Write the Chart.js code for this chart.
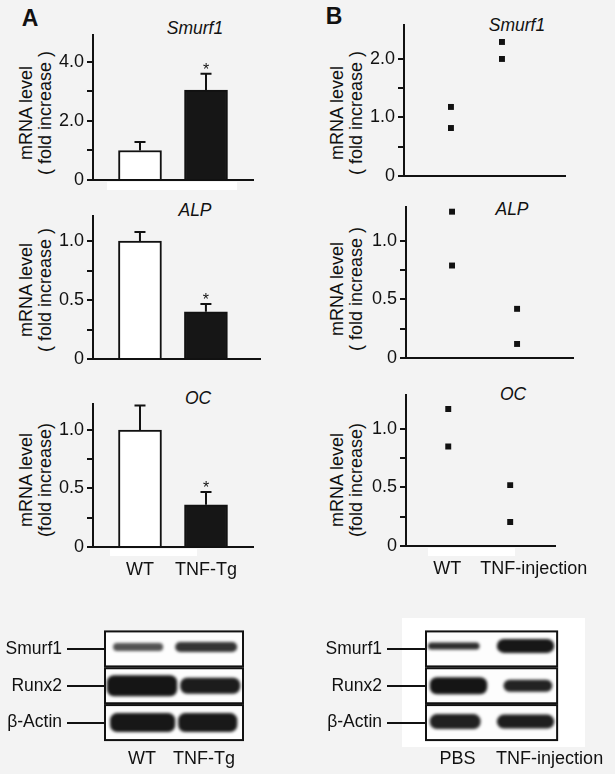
<!DOCTYPE html>
<html>
<head>
<meta charset="utf-8">
<script src="https://cdn.jsdelivr.net/npm/chart.js@4.4.1/dist/chart.umd.min.js"></script>
<style>
  body { margin: 0; background: #f3f3f3; font-family: 'Liberation Sans', Arial, sans-serif; color: #111; }
  #fig { position: relative; width: 615px; height: 774px; overflow: hidden; }
  #fig canvas { position: absolute; }
  .t { position: absolute; transform: translate(-50%, -50%); white-space: nowrap; font-size: 17.5px; }
  .i { font-style: italic; }
  .big { font-weight: bold; font-size: 23px; }
  .yt { position: absolute; transform: translate(-50%, -50%) rotate(-90deg); text-align: center;
        font-size: 18px; line-height: 18.5px; white-space: nowrap; }
  .pad { position: absolute; background: #fff; }
</style>
</head>
<body>
<div id="fig">
  <div class="pad" style="left:107px;top:182px;width:130px;height:8px"></div>
  <div class="pad" style="left:110px;top:549px;width:87px;height:7px"></div>
  <div class="pad" style="left:428px;top:548px;width:87px;height:8px"></div>
  <div class="pad" style="left:402px;top:618px;width:183px;height:129px"></div>

  <div class="t big" style="left:30px;top:18px">A</div>
  <div class="t big" style="left:334px;top:16px">B</div>

  <div class="t i" style="left:195px;top:28px">Smurf1</div>
  <div class="t i" style="left:195px;top:210px">ALP</div>
  <div class="t i" style="left:198px;top:398px">OC</div>
  <div class="t i" style="left:517px;top:25px">Smurf1</div>
  <div class="t i" style="left:512px;top:209px">ALP</div>
  <div class="t i" style="left:513px;top:394px">OC</div>

  <div class="yt" style="left:35px;top:113px">mRNA level<br>( fold increase )</div>
  <div class="yt" style="left:35px;top:290px">mRNA level<br>( fold increase )</div>
  <div class="yt" style="left:35px;top:480px">mRNA level<br>(fold increase)</div>
  <div class="yt" style="left:346px;top:113px">mRNA level<br>( fold increase )</div>
  <div class="yt" style="left:346px;top:289px">mRNA level<br>( fold increase )</div>
  <div class="yt" style="left:346px;top:480px">mRNA level<br>(fold increase)</div>
</div>
<script>
const groupsA = ['WT', 'TNF-Tg'];
const groupsB = ['WT', 'TNF-injection'];

// A: mean fold increase and upper error per group
const smurf1MeanA = [1.0, 3.05];
const smurf1ErrA = [0.29, 0.55];
const alpMeanA = [1.0, 0.40];
const alpErrA = [0.076, 0.066];
const ocMeanA = [1.0, 0.36];
const ocErrA = [0.21, 0.11];
const signifA = [false, true];

// B: single animals
const smurf1WtB = [1.18, 0.82];
const smurf1TnfB = [2.29, 2.0];
const alpWtB = [1.25, 0.79];
const alpTnfB = [0.42, 0.12];
const ocWtB = [1.17, 0.85];
const ocTnfB = [0.52, 0.205];

const ticksSmurf1A = [0, 1, 2, 3, 4];
const labelsSmurf1A = ['0', '', '2.0', '', '4.0'];
const ticksQuarter = [0, 0.25, 0.5, 0.75, 1];
const labelsQuarter = ['0', '', '0.5', '', '1.0'];
const ticksSmurf1B = [0, 0.5, 1, 1.5, 2];
const labelsSmurf1B = ['0', '', '1.0', '', '2.0'];

// western blots
const blotRows = ['Smurf1', 'Runx2', 'β-Actin'];
const blotLanesA = ['WT', 'TNF-Tg'];
const blotLanesB = ['PBS', 'TNF-injection'];
const bandDarkA = [[0.72, 0.85], [0.98, 0.95], [0.97, 0.96]];
const bandDarkB = [[0.88, 0.97], [0.98, 0.92], [0.93, 0.94]];

const FONT = "'Liberation Sans', Arial, sans-serif";
const INK = '#111';
Chart.defaults.font.family = FONT;
Chart.defaults.color = INK;

const fig = document.getElementById('fig');

function mkCanvas(left, top, w, h) {
  const c = document.createElement('canvas');
  c.width = w; c.height = h;
  c.style.left = left + 'px'; c.style.top = top + 'px';
  c.style.width = w + 'px'; c.style.height = h + 'px';
  fig.appendChild(c);
  return c;
}

function errorBars(mean, err, sig) {
  return {
    id: 'errorBars',
    afterDatasetsDraw(chart) {
      const { ctx, scales: { x, y } } = chart;
      ctx.save();
      ctx.strokeStyle = INK; ctx.fillStyle = INK; ctx.lineWidth = 2;
      ctx.font = '16px ' + FONT; ctx.textAlign = 'center'; ctx.textBaseline = 'alphabetic';
      mean.forEach((m, i) => {
        const px = x.getPixelForValue(i);
        const top = y.getPixelForValue(m + err[i]);
        ctx.beginPath();
        ctx.moveTo(px, y.getPixelForValue(m));
        ctx.lineTo(px, top);
        ctx.moveTo(px - 5.5, top);
        ctx.lineTo(px + 5.5, top);
        ctx.stroke();
        if (sig[i]) ctx.fillText('*', px, top + 1);
      });
      ctx.restore();
    }
  };
}

// p.area = [left, right, top, bottom] of the plot frame in page pixels
function panel(p) {
  const [l, r, t, b] = p.area;
  const padTop = 14, padRight = 40, xH = p.xLabels ? 40 : 14;
  const yW = l - p.left;
  const c = mkCanvas(p.left, t - padTop, yW + (r - l) + padRight, padTop + (b - t) + xH);
  const isBar = p.kind === 'bar';
  const datasets = isBar
    ? [{ data: p.mean.map((v, i) => ({ x: i, y: v })), backgroundColor: ['#ffffff', '#161616'],
         borderColor: INK, borderWidth: 2, barThickness: 43, borderSkipped: 'bottom' }]
    : [{ data: [...p.wt.map(v => ({ x: 0, y: v })), ...p.tnf.map(v => ({ x: 1, y: v }))],
         pointStyle: 'rect', radius: 4.2, backgroundColor: INK, borderWidth: 0 }];
  new Chart(c, {
    type: isBar ? 'bar' : 'scatter',
    data: { datasets },
    plugins: isBar ? [errorBars(p.mean, p.err, signifA)] : [],
    options: {
      responsive: false, animation: false, devicePixelRatio: 1,
      layout: { padding: { top: padTop, right: padRight, left: 0, bottom: 0 } },
      plugins: { legend: { display: false }, tooltip: { enabled: false } },
      scales: {
        x: {
          type: 'linear', min: p.x[0], max: p.x[1], offset: false,
          grid: { display: false, drawTicks: false },
          border: { display: true, color: INK, width: 2 },
          ticks: { display: !!p.xLabels, padding: 12, autoSkip: false, maxRotation: 0,
                   font: { size: 18 }, color: INK, callback: (v, i) => p.xLabels ? p.xLabels[i] : '' },
          afterBuildTicks: s => { s.ticks = (p.xTicks || [0, 1]).map(v => ({ value: v })); },
          afterFit: s => { s.height = xH; }
        },
        y: {
          type: 'linear', min: 0, max: p.yMax,
          grid: { display: true, drawOnChartArea: false, drawTicks: true, tickLength: 6, color: INK, lineWidth: 2 },
          border: { display: true, color: INK, width: 2 },
          ticks: { padding: 3, font: { size: 18 }, color: INK, callback: (v, i) => p.yLabels[i] },
          afterBuildTicks: s => { s.ticks = p.yTicks.map(v => ({ value: v })); },
          afterFit: s => { s.width = yW; }
        }
      }
    }
  });
}

panel({ kind: 'bar', left: 0, area: [93, 253, 35, 180], x: [-0.712, 1.712], yMax: 4.915,
        mean: smurf1MeanA, err: smurf1ErrA, yTicks: ticksSmurf1A, yLabels: labelsSmurf1A });
panel({ kind: 'bar', left: 0, area: [93, 260, 216, 359], x: [-0.712, 1.82], yMax: 1.212,
        mean: alpMeanA, err: alpErrA, yTicks: ticksQuarter, yLabels: labelsQuarter });
panel({ kind: 'bar', left: 0, area: [93, 253, 404, 547], x: [-0.712, 1.712], yMax: 1.222,
        mean: ocMeanA, err: ocErrA, yTicks: ticksQuarter, yLabels: labelsQuarter,
        xTicks: [0, 1], xLabels: groupsA });
panel({ kind: 'dot', left: 310, area: [404, 565, 25, 176], x: [-0.92, 2.235], yMax: 2.58,
        wt: smurf1WtB, tnf: smurf1TnfB, yTicks: ticksSmurf1B, yLabels: labelsSmurf1B });
panel({ kind: 'dot', left: 310, area: [406, 573, 207, 358], x: [-0.708, 1.86], yMax: 1.29,
        wt: alpWtB, tnf: alpTnfB, yTicks: ticksQuarter, yLabels: labelsQuarter });
panel({ kind: 'dot', left: 310, area: [406, 565, 395, 546], x: [-0.682, 1.727], yMax: 1.29,
        wt: ocWtB, tnf: ocTnfB, yTicks: ticksQuarter, yLabels: labelsQuarter,
        xTicks: [-0.015, 1.38], xLabels: groupsB });

// blot drawing: boxes and bands placed with the chart's scales
function blotPlugin(dark, spans, heights, dys) {
  return {
    id: 'blot',
    afterDraw(chart) {
      const { ctx, chartArea: a, scales: { x, y } } = chart;
      ctx.save();
      blotRows.forEach((row, r) => {
        const cy = y.getPixelForValue(r);
        const top = cy - 17.5, h = 35;
        ctx.fillStyle = '#fdfdfd';
        ctx.fillRect(a.left, top, a.right - a.left, h);
        ctx.save();
        ctx.beginPath(); ctx.rect(a.left + 1, top + 1, a.right - a.left - 2, h - 2); ctx.clip();
        ctx.filter = 'blur(1.5px)';
        dark[r].forEach((d, k) => {
          const x0 = x.getPixelForValue(spans[r][k][0]);
          const x1 = x.getPixelForValue(spans[r][k][1]);
          const bh = heights[r][k];
          const by = cy + dys[r][k] - bh / 2;
          ctx.fillStyle = `rgba(16,16,16,${d})`;
          ctx.beginPath();
          ctx.roundRect(x0, by, x1 - x0, bh, Math.min(bh / 2, 7));
          ctx.fill();
        });
        ctx.restore();
        ctx.strokeStyle = INK; ctx.lineWidth = 2;
        ctx.strokeRect(a.left, top, a.right - a.left, h);
      });
      ctx.restore();
    }
  };
}

function blot(b) {
  const [l, r, t, bt] = b.area;
  const padTop = 12, xH = 32;
  const yW = l - b.left;
  const c = mkCanvas(b.left, t - padTop, yW + (r - l) + b.padRight, padTop + (bt - t) + xH);
  new Chart(c, {
    type: 'scatter',
    data: { datasets: [] },
    plugins: [blotPlugin(b.dark, b.spans, b.heights, b.dys)],
    options: {
      responsive: false, animation: false, devicePixelRatio: 1,
      layout: { padding: { top: padTop, right: b.padRight, left: 0, bottom: 0 } },
      plugins: { legend: { display: false }, tooltip: { enabled: false } },
      scales: {
        x: {
          type: 'linear', min: b.x[0], max: b.x[1],
          grid: { display: false, drawTicks: false },
          border: { display: false },
          ticks: { padding: 7, autoSkip: false, maxRotation: 0, font: { size: 18 }, color: INK,
                   callback: (v, i) => b.lanes[i] },
          afterBuildTicks: s => { s.ticks = b.xTicks.map(v => ({ value: v })); },
          afterFit: s => { s.height = xH; }
        },
        y: {
          type: 'category', labels: blotRows, min: 0, max: 2, offset: true,
          grid: { display: true, offset: false, drawOnChartArea: false, drawTicks: true,
                  tickLength: b.tickLen, color: INK, lineWidth: 2 },
          border: { display: false },
          ticks: { padding: 5, font: { size: 17.5 }, color: INK },
          afterFit: s => { s.width = yW; }
        }
      }
    }
  });
}

blot({ left: 0, area: [105, 243, 627, 741], padRight: 20, x: [-0.57, 1.55], tickLen: 38,
       lanes: blotLanesA, xTicks: [0, 0.95], dark: bandDarkA,
       spans: [[[-0.446, 0.323], [0.508, 1.46]], [[-0.54, 0.538], [0.585, 1.508]], [[-0.492, 0.508], [0.554, 1.462]]],
       heights: [[8, 10], [21, 16], [19, 19]],
       dys: [[-2, -2], [0, 0], [0, 0]] });
blot({ left: 310, area: [426, 563, 627, 741], padRight: 50, x: [-0.405, 1.446], tickLen: 39,
       lanes: blotLanesB, xTicks: [0.04, 1.34], dark: bandDarkB,
       spans: [[[-0.378, 0.351], [0.595, 1.405]], [[-0.351, 0.459], [0.689, 1.378]], [[-0.351, 0.365], [0.595, 1.405]]],
       heights: [[7, 14], [17, 12], [15, 14]],
       dys: [[-3, -3], [0, 0], [-1, -1]] });
</script>
</body>
</html>
